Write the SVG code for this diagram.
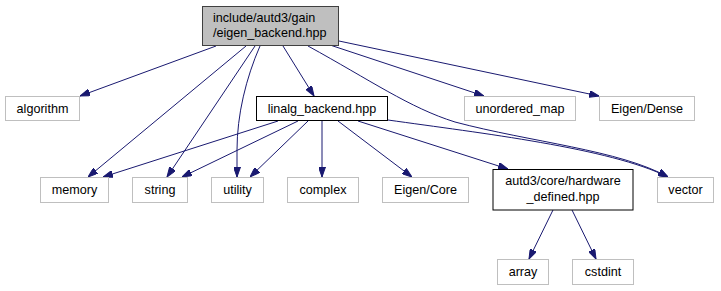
<svg xmlns="http://www.w3.org/2000/svg" width="721" height="291" viewBox="0 0 721 291">
  <defs>
    <marker id="arrow" viewBox="0 0 10 7" refX="10" refY="3.5" markerWidth="10" markerHeight="7" markerUnits="userSpaceOnUse" orient="auto">
      <path d="M0,0 L10,3.5 L0,7 Z" fill="#191970" stroke="#191970" stroke-width="1"/>
    </marker>
  </defs>
  <style>
    text { font-family: "Liberation Sans", Arial, Helvetica, sans-serif; font-size: 12.6px; fill: #000; }
    .sys rect { fill: #fff; stroke: #bfbfbf; stroke-width: 1; }
    .hdr rect { fill: #fff; stroke: #000; stroke-width: 1; }
    .root rect { fill: #bfbfbf; stroke: #404040; stroke-width: 1; }
    .mid { text-anchor: middle; }
    #edges path { fill: none; stroke: #191970; stroke-width: 1; marker-end: url(#arrow); }
  </style>

  <rect width="721" height="291" fill="#fff"/>

  <!-- include edges -->
  <g id="edges">
    <path d="M216,46 L80,96"/>
    <path d="M246,46 L88,177"/>
    <path d="M255,46 L167,177"/>
    <path d="M260,46 C246,78 237,115 237,150 L237,177"/>
    <path d="M283,46 L314,96"/>
    <path d="M308,46 C370,80 410,108 455,122 C530,142 620,150 668,177"/>
    <path d="M330,45 L484,96"/>
    <path d="M339,41 L599,96"/>
    <path d="M278,121 L103,177"/>
    <path d="M298,121 L182,177"/>
    <path d="M308,121 L250,177"/>
    <path d="M322,121 L322,177"/>
    <path d="M338,121 L412,177"/>
    <path d="M358,121 L508,169"/>
    <path d="M388,120 C480,133 610,148 668,177"/>
    <path d="M553,210 L529,259"/>
    <path d="M572,210 L596,259"/>
  </g>

  <g id="eigen_backend" class="root">
    <rect x="202.5" y="6.5" width="136" height="39"/>
    <text x="213" y="22">include/autd3/gain</text>
    <text x="213" y="37">/eigen_backend.hpp</text>
  </g>

  <g id="algorithm" class="sys">
    <rect x="5.5" y="96.5" width="74" height="24"/>
    <text class="mid" x="42.5" y="112.5">algorithm</text>
  </g>

  <g id="linalg_backend" class="hdr">
    <rect x="256.5" y="96.5" width="131" height="24"/>
    <text class="mid" x="322" y="112.5">linalg_backend.hpp</text>
  </g>

  <g id="unordered_map" class="sys">
    <rect x="464.5" y="96.5" width="111" height="24"/>
    <text class="mid" x="520" y="112.5">unordered_map</text>
  </g>

  <g id="eigen_dense" class="sys">
    <rect x="599.5" y="96.5" width="95" height="24"/>
    <text class="mid" x="647" y="112.5">Eigen/Dense</text>
  </g>

  <g id="memory" class="sys">
    <rect x="40.5" y="177.5" width="68" height="25"/>
    <text class="mid" x="74.5" y="194">memory</text>
  </g>

  <g id="string" class="sys">
    <rect x="132.5" y="177.5" width="55" height="25"/>
    <text class="mid" x="160" y="194">string</text>
  </g>

  <g id="utility" class="sys">
    <rect x="211.5" y="177.5" width="52" height="25"/>
    <text class="mid" x="237.5" y="194">utility</text>
  </g>

  <g id="complex" class="sys">
    <rect x="287.5" y="177.5" width="71" height="25"/>
    <text class="mid" x="323" y="194">complex</text>
  </g>

  <g id="eigen_core" class="sys">
    <rect x="382.5" y="177.5" width="86" height="25"/>
    <text class="mid" x="425.5" y="194">Eigen/Core</text>
  </g>

  <g id="hardware_defined" class="hdr">
    <rect x="493" y="169.5" width="140" height="40.5" stroke="#404040"/>
    <text class="mid" x="563" y="185">autd3/core/hardware</text>
    <text class="mid" x="563" y="200.5">_defined.hpp</text>
  </g>

  <g id="vector" class="sys">
    <rect x="657.5" y="177.5" width="56" height="25"/>
    <text class="mid" x="685.5" y="194">vector</text>
  </g>

  <g id="array" class="sys">
    <rect x="497.5" y="259.5" width="51" height="25"/>
    <text class="mid" x="523" y="276">array</text>
  </g>

  <g id="cstdint" class="sys">
    <rect x="572.5" y="259.5" width="61" height="25"/>
    <text class="mid" x="603" y="276">cstdint</text>
  </g>
</svg>
